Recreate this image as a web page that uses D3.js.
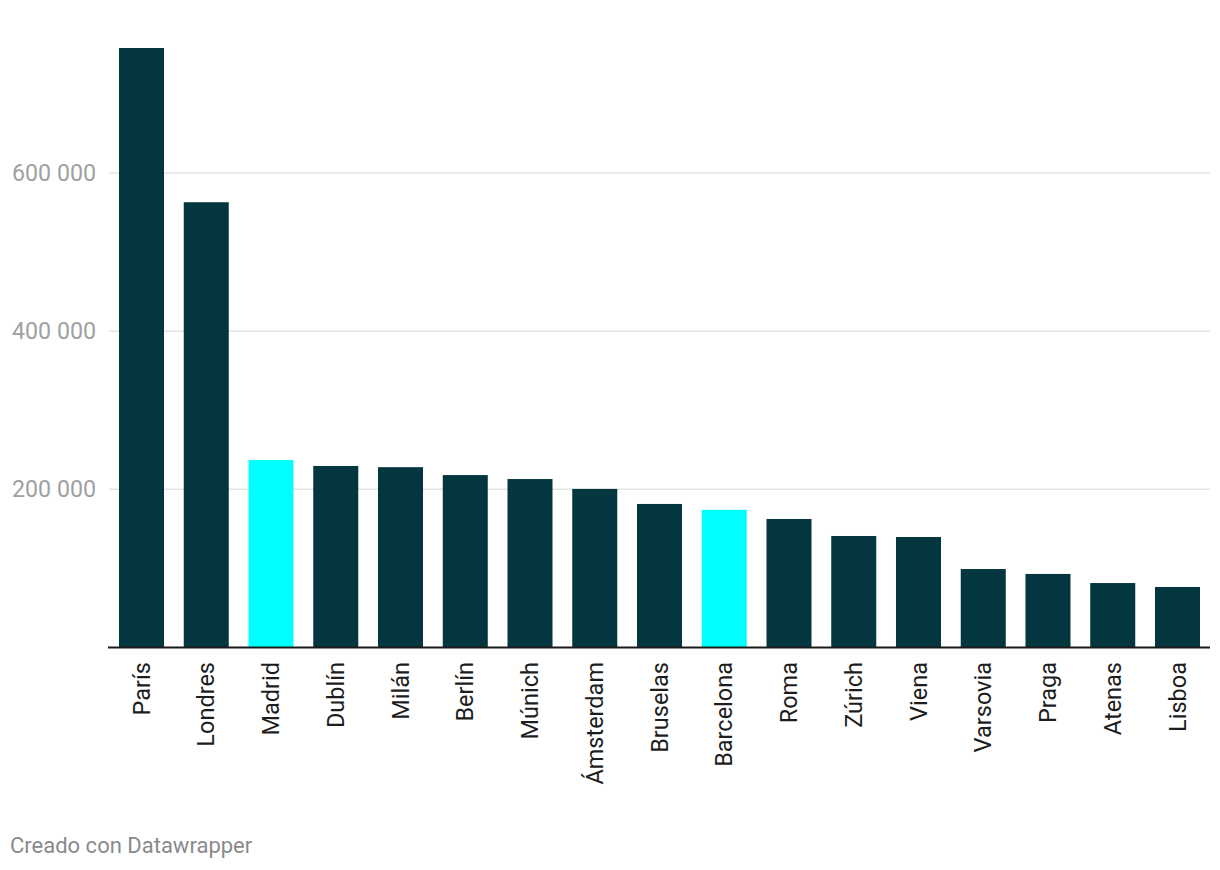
<!DOCTYPE html>
<html>
<head>
<meta charset="utf-8">
<script src="https://cdn.jsdelivr.net/npm/d3@7"></script>
<style>
  body { margin: 0; background: #fff; }
  text { font-family: Roboto, "Noto Sans", sans-serif; }
</style>
</head>
<body>
<div id="chart"></div>
<script>
var cities = ["París", "Londres", "Madrid", "Dublín", "Milán", "Berlín", "Múnich", "Ámsterdam",
  "Bruselas", "Barcelona", "Roma", "Zúrich", "Viena", "Varsovia", "Praga", "Atenas", "Lisboa"];
var values = [758000, 563000, 237000, 229500, 228000, 218000, 213000, 200500,
  181500, 174000, 162500, 141000, 139700, 99200, 93000, 81500, 76500];
var highlighted = ["Madrid", "Barcelona"];
var yTicks = [200000, 400000, 600000];

var width = 1220, height = 870;

var svg = d3.select("#chart")
  .append("svg")
    .attr("width", width)
    .attr("height", height);

var x = d3.scaleBand()
  .domain(cities)
  .range([108, 1211])
  .paddingInner(0.305)
  .paddingOuter(0.17);

var y = d3.scaleLinear()
  .domain([0, 758000])
  .range([647.5, 48]);

var fmt = function(d) { return d3.format(",")(d).replace(/,/g, " "); };

// gridlines + y labels
var grid = svg.append("g")
  .selectAll("g")
  .data(yTicks)
  .enter()
  .append("g")
    .attr("transform", function(d) { return "translate(0," + y(d) + ")"; });

grid.append("line")
    .attr("x1", 109)
    .attr("x2", 1210)
    .style("stroke", "#e3e3e3")
    .style("stroke-width", 1.5);

grid.append("text")
    .attr("x", 96)
    .attr("dy", "0.35em")
    .attr("text-anchor", "end")
    .style("font-size", "23.2px")
    .style("fill", "#a0a0a0")
    .text(fmt);

// bars
svg.append("g")
  .selectAll("rect")
  .data(cities)
  .enter()
  .append("rect")
    .attr("x", function(d) { return x(d); })
    .attr("width", x.bandwidth())
    .attr("y", function(d, i) { return y(values[i]); })
    .attr("height", function(d, i) { return y(0) - y(values[i]); })
    .attr("fill", function(d) { return highlighted.indexOf(d) >= 0 ? "#00ffff" : "#03363f"; });

// baseline
svg.append("line")
    .attr("x1", 108)
    .attr("x2", 1210)
    .attr("y1", y(0))
    .attr("y2", y(0))
    .style("stroke", "#1a1a1a")
    .style("stroke-width", 2);

// x labels
svg.append("g")
  .selectAll("text")
  .data(cities)
  .enter()
  .append("text")
    .attr("transform", function(d) {
      return "translate(" + (x(d) + x.bandwidth() / 2) + ",662) rotate(-90)";
    })
    .attr("dy", "0.35em")
    .attr("text-anchor", "end")
    .style("font-size", "23.5px")
    .style("fill", "#1d1d1d")
    .text(function(d) { return d; });

svg.append("text")
    .attr("x", 10)
    .attr("y", 853)
    .style("font-size", "22px")
    .style("fill", "#8a8a8a")
    .text("Creado con Datawrapper");
</script>
</body>
</html>
